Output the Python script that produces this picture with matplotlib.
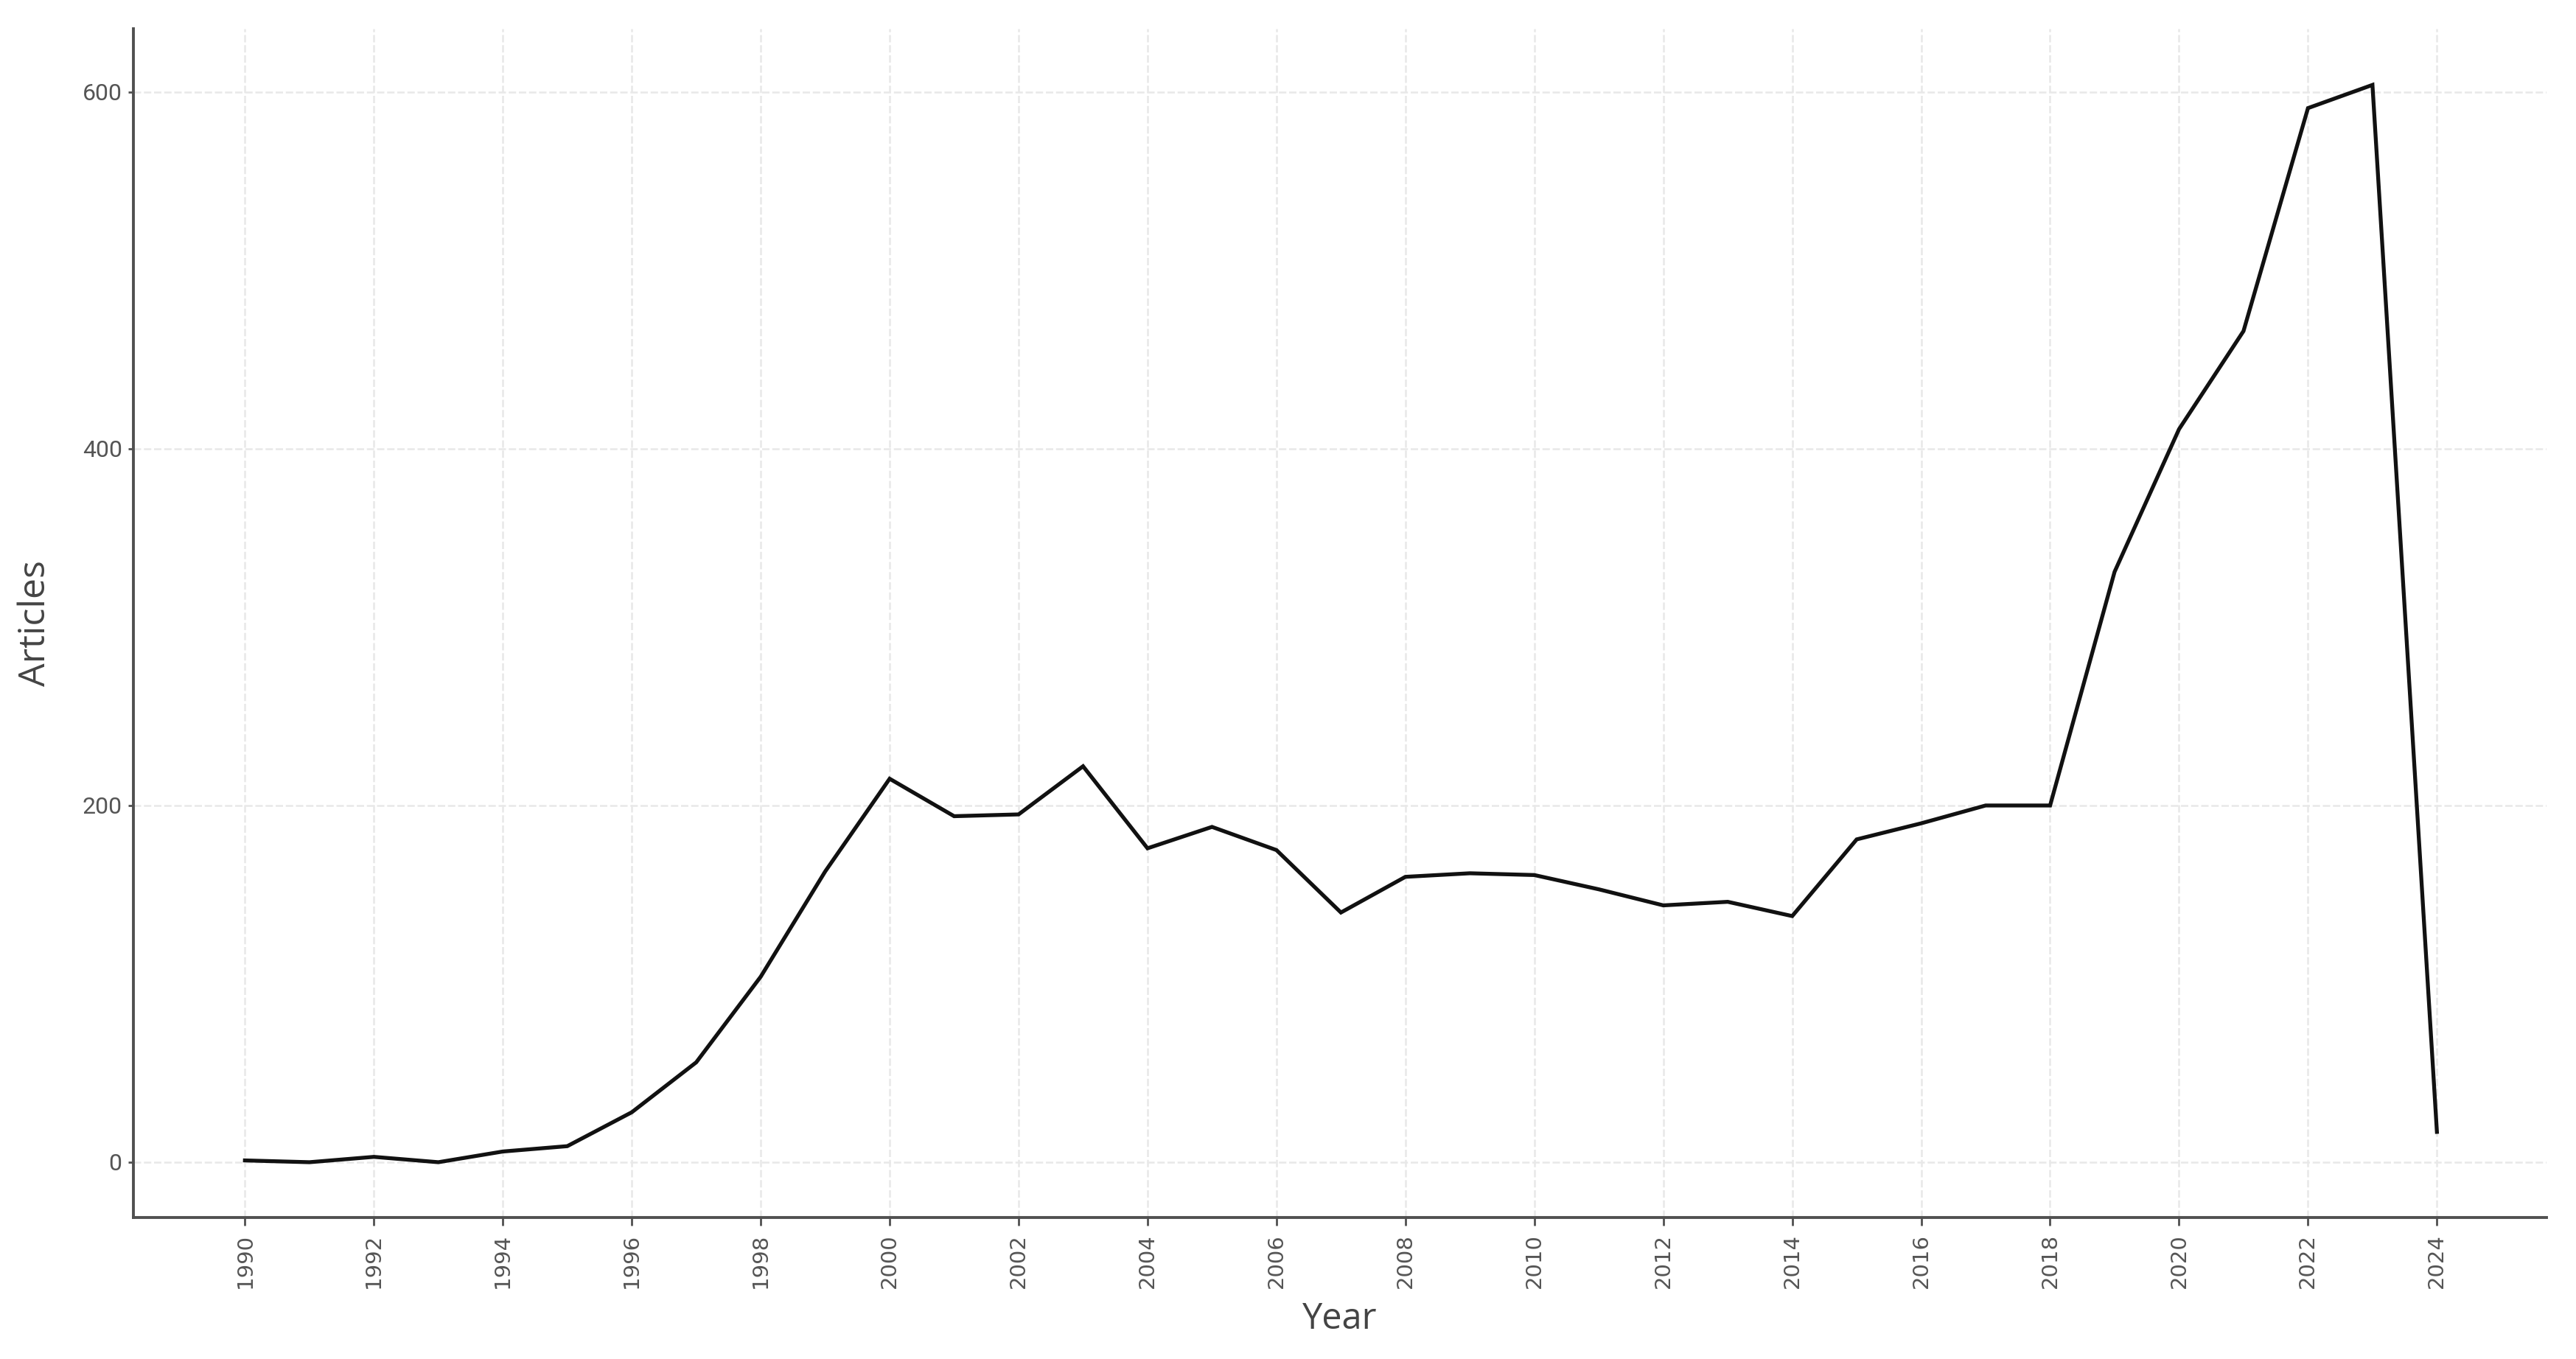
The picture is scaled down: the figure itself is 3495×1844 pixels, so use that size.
import matplotlib
matplotlib.use("Agg")
import matplotlib.pyplot as plt
import numpy as np

years = list(range(1990, 2025))
articles = [1, 0, 3, 0, 6, 9, 28, 56, 104, 163, 215, 194, 195, 222, 176, 188, 175,
            140, 160, 162, 161, 153, 144, 146, 138, 181, 190, 200, 200, 331, 411,
            466, 591, 604, 17]
x_ticks = list(range(1990, 2025, 2))
y_ticks = [0, 200, 400, 600]

W, H, DPI = 3495, 1844, 200
fig = plt.figure(figsize=(W / DPI, H / DPI), dpi=DPI)
fig.patch.set_facecolor("white")
ax = fig.add_axes([181 / W, 1 - 1652 / H, (3455 - 181) / W, (1652 - 39) / H])

ax.plot(years, articles, color="#111111", linewidth=1.9, solid_joinstyle="miter", zorder=3)

ax.set_xlim(1988.27, 2025.7)
ax.set_ylim(-31, 635.5)
ax.set_xticks(x_ticks)
ax.set_xticklabels([str(y) for y in x_ticks], rotation=90, fontsize=10.5,
                   color="#555555", family="DejaVu Sans")
ax.set_yticks(y_ticks)
ax.set_yticklabels([str(v) for v in y_ticks], fontsize=11.5, color="#555555",
                   family="Roboto")

ax.grid(True, color="#e8e8e8", linewidth=0.9, linestyle=(0, (4, 1.5)), zorder=0)
ax.set_axisbelow(True)

for s in ["top", "right"]:
    ax.spines[s].set_visible(False)
for s in ["left", "bottom"]:
    ax.spines[s].set_color("#505050")
    ax.spines[s].set_linewidth(1.4)

ax.tick_params(axis="x", length=4, width=1.0, color="#505050", pad=4)
ax.tick_params(axis="y", length=2.5, width=1.0, color="#505050", pad=3)

ax.set_xlabel("Year", fontsize=17.5, color="#444444", family="Open Sans", labelpad=6)
ax.set_ylabel("Articles", fontsize=18, color="#444444", family="Open Sans", labelpad=14)

fig.savefig("out.png", dpi=DPI, facecolor="white")
